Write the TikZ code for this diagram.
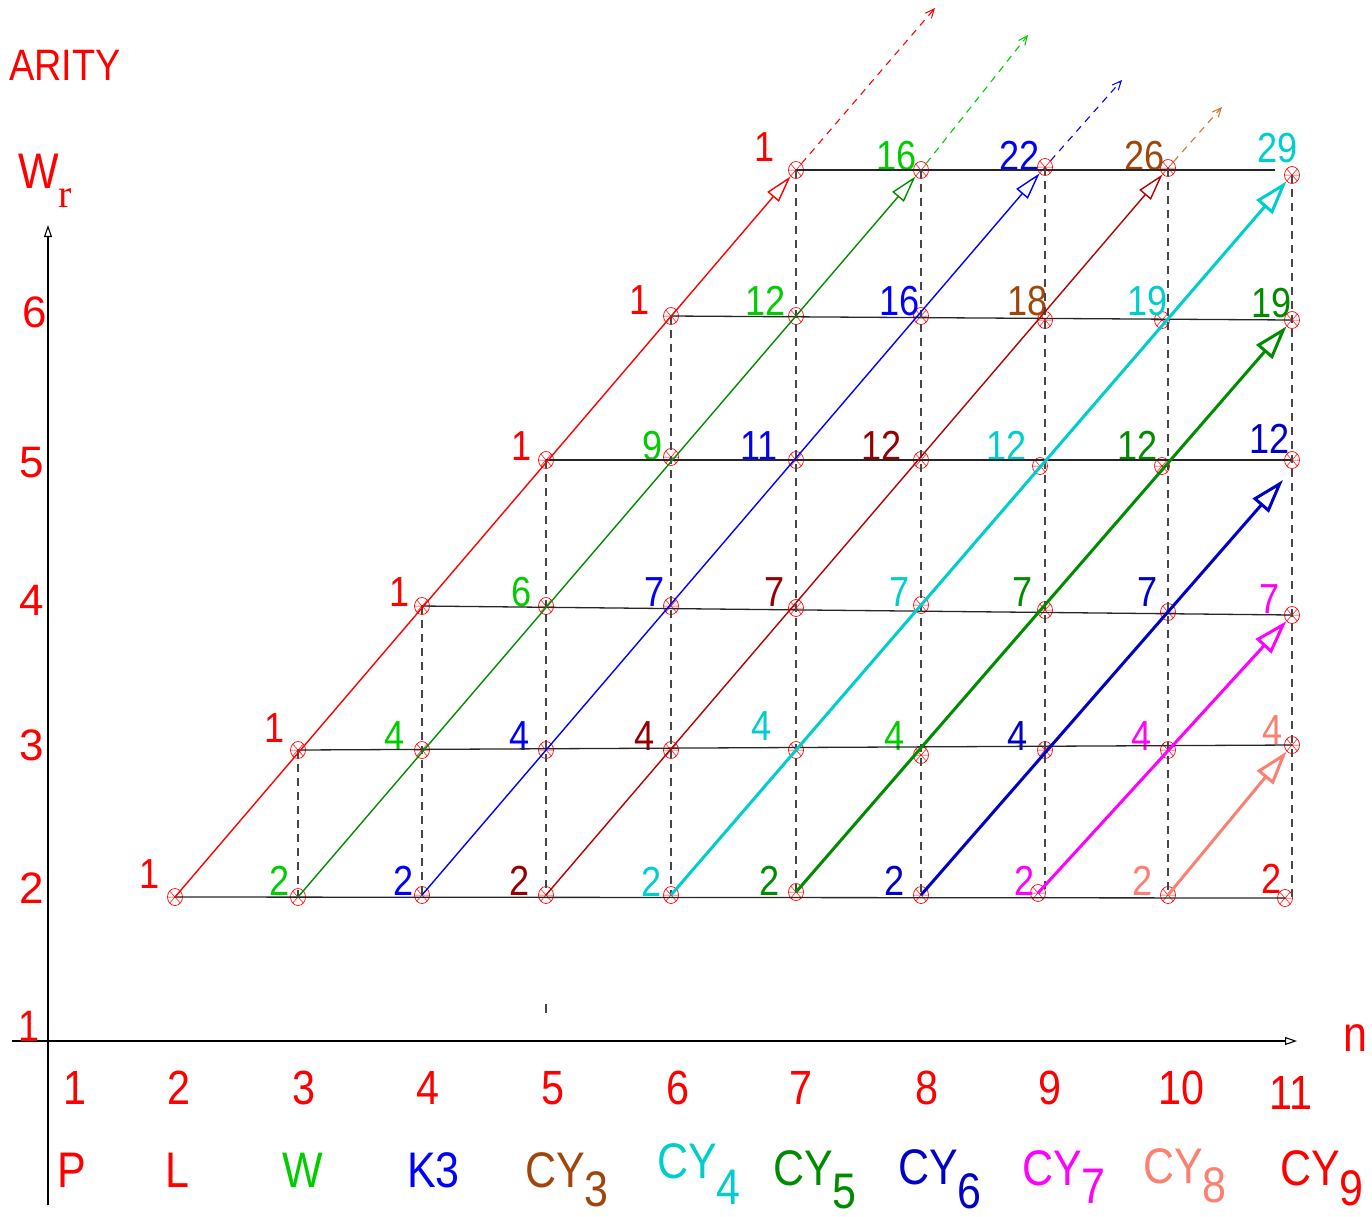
\documentclass[tikz,border=0pt]{standalone}
\usepackage{fontspec}
\setmainfont{Liberation Sans}[FakeStretch=0.86]
\newfontfamily\widefont{Liberation Sans}
\newfontfamily\seriffont{Liberation Serif}
\usetikzlibrary{arrows.meta,shapes.geometric}
\definecolor{cred}{RGB}{255,0,0}
\definecolor{lgreen}{RGB}{0,205,0}
\definecolor{dgreen}{RGB}{0,140,0}
\definecolor{cblue}{RGB}{0,0,255}
\definecolor{dblue}{RGB}{0,0,200}
\definecolor{dred}{RGB}{150,0,0}
\definecolor{lred}{RGB}{180,0,0}
\definecolor{ccyan}{RGB}{0,205,205}
\definecolor{cbrown}{RGB}{160,70,10}
\definecolor{lbrown}{RGB}{200,120,50}
\definecolor{cmag}{RGB}{255,0,255}
\definecolor{salmon}{RGB}{250,128,114}
\definecolor{gline}{RGB}{70,70,70}
\begin{document}
\begin{tikzpicture}[x=1pt,y=-1pt,
  ptmark/.style={ellipse,draw=red,line width=0.7pt,minimum width=15pt,minimum height=17pt,inner sep=0pt,
    path picture={\draw[red,line width=0.5pt]
      (path picture bounding box.north west) -- (path picture bounding box.south east)
      (path picture bounding box.north east) -- (path picture bounding box.south west)
      (path picture bounding box.west) -- (path picture bounding box.east);}},
  lab/.style={anchor=base east,inner sep=0pt,font=\fontsize{42}{42}\selectfont},
  axlab/.style={inner sep=0pt,text=cred,font=\widefont\fontsize{44}{44}\selectfont},
  btm/.style={inner sep=0pt,font=\fontsize{48}{48}\selectfont},
  nm/.style={anchor=base west,inner sep=0pt,font=\fontsize{50}{50}\selectfont},
  hline/.style={black!85,line width=1.3pt},
  vdash/.style={gline,line width=1.1pt,dash pattern=on 8pt off 6pt},
  thin/.style={line width=1.4pt,-{Triangle[open,length=27pt,width=15pt,line width=1.4pt]}},
  thick/.style={line width=3pt,-{Triangle[open,length=34pt,width=21pt,line width=3pt]}},
  cont/.style={line width=1.1pt,dash pattern=on 7pt off 6pt,-{Straight Barb[length=9pt,width=8pt,line width=1pt]}},
  axis/.style={black,line width=1.1pt,-{Triangle[open,length=12pt,width=8pt]}}]
\useasboundingbox (0,0) rectangle (1372,1216);

% axes
\coordinate (yb) at (48,1205);
\coordinate (yt) at (48,225);
\coordinate (xl) at (12,1041);
\coordinate (xr) at (1297,1041);
\draw[axis] (yb) -- (yt);
\draw[axis] (xl) -- (xr);

% texts
\node[anchor=base west,inner sep=0pt,text=cred,font=\fontsize{44}{44}\selectfont] (arity) at (9,80) {ARITY};
\node[anchor=base west,inner sep=0pt,text=cred,font=\fontsize{50}{50}\selectfont] (wr) at (18,188) {W\raisebox{-19pt}{\seriffont\fontsize{40}{40}\selectfont r}};
\node[axlab] (y6) at (35,312) {6};
\node[axlab] (y5) at (32,463) {5};
\node[axlab] (y4) at (32,600) {4};
\node[axlab] (y3) at (32,745) {3};
\node[axlab] (y2) at (32,888) {2};
\node[inner sep=0pt,text=cred,font=\fontsize{44}{44}\selectfont] (y1) at (29,1026) {1};
\node[inner sep=0pt,text=cred,font=\fontsize{50}{50}\selectfont] (nlab) at (1355,1038) {n};

% bottom numbers
\foreach \t/\x/\y in {1/75/1088,2/179/1088,3/304/1088,4/428/1088,5/553/1088,6/678/1088,7/801/1088,8/927/1088,9/1050/1088,10/1181/1088,11/1291/1093}
  \node[btm,text=cred] (b-\t) at (\x,\y) {\t};

% bottom names
\node[nm,text=cred] (nP) at (57,1187) {P};
\node[nm,text=cred] (nL) at (165,1187) {L};
\node[nm,text=lgreen] (nW) at (282,1187) {W};
\node[nm,text=cblue] (nK) at (407,1187) {K3};
\node[nm,text=cbrown] (c3) at (525,1187) {CY\raisebox{-19pt}{3}};
\node[nm,text=ccyan] (c4) at (657,1178) {CY\raisebox{-26pt}{4}};
\node[nm,text=dgreen] (c5) at (773,1185) {CY\raisebox{-23pt}{5}};
\node[nm,text=dblue] (c6) at (898,1184) {CY\raisebox{-24pt}{6}};
\node[nm,text=cmag] (c7) at (1022,1185) {CY\raisebox{-18pt}{7}};
\node[nm,text=salmon] (c8) at (1143,1183) {CY\raisebox{-19pt}{8}};
\node[nm,text=cred] (c9) at (1280,1185) {CY\raisebox{-20pt}{9}};

% points and labels: n/r/x/y/text/colour/label-x/label-y
\foreach \n/\r/\x/\y/\t/\c/\lx/\ly in {
  2/2/175/897/1/cred/160/888,
  3/2/298/897/2/lgreen/290/895,
  4/2/422/895/2/cblue/414/895,
  5/2/546/895/2/dred/530/895,
  6/2/671/895/2/ccyan/662/896,
  7/2/796/892/2/dgreen/780/895,
  8/2/921/895/2/dblue/905/895,
  9/2/1038/893/2/cmag/1035/895,
  10/2/1168/895/2/salmon/1153/895,
  11/2/1285/898/2/cred/1282/893,
  3/3/298/750/1/cred/285/742,
  4/3/422/750/4/lgreen/405/750,
  5/3/546/750/4/cblue/530/750,
  6/3/671/750/4/dred/655/750,
  7/3/796/750/4/ccyan/772/740,
  8/3/921/755/4/lgreen/905/750,
  9/3/1045/750/4/dblue/1028/750,
  10/3/1168/750/4/cmag/1152/750,
  11/3/1292/745/4/salmon/1283/744,
  4/4/422/606/1/cred/410/606,
  5/4/546/606/6/lgreen/532/606,
  6/4/671/606/7/cblue/665/606,
  7/4/796/608/7/dred/785/606,
  8/4/921/605/7/ccyan/910/606,
  9/4/1045/610/7/dgreen/1033/606,
  10/4/1168/612/7/dblue/1158/606,
  11/4/1292/615/7/cmag/1280/613,
  5/5/546/460/1/cred/532/460,
  6/5/671/457/9/lgreen/663/460,
  7/5/796/460/11/cblue/778/460,
  8/5/921/460/12/dred/902/460,
  9/5/1040/466/12/ccyan/1027/460,
  10/5/1162/466/12/dgreen/1158/460,
  11/5/1292/460/12/dblue/1290/453,
  6/6/671/316/1/cred/650/314,
  7/6/796/316/12/lgreen/786/315,
  8/6/921/316/16/cblue/920/315,
  9/6/1045/320/18/cbrown/1048/315,
  10/6/1162/320/19/ccyan/1168/315,
  11/6/1292/320/19/dgreen/1292/317,
  7/7/796/170/1/cred/775/161,
  8/7/921/170/16/lgreen/917/170,
  9/7/1045/167/22/cblue/1040/170,
  10/7/1168/168/26/cbrown/1165/170,
  11/7/1292/175/29/ccyan/1298/162}
{
  \node[ptmark] (p-\n-\r) at (\x,\y) {};
  \node[lab,text=\c] (l-\n-\r) at (\lx,\ly) {\t};
}

% horizontal lines
\coordinate (r7end) at (1275,170);
\draw[hline] (p-2-2.center) -- (p-11-2.center);
\draw[hline] (p-3-3.center) -- (p-11-3.center);
\draw[hline] (p-4-4.center) -- (p-11-4.center);
\draw[hline] (p-5-5.center) -- (p-11-5.center);
\draw[hline] (p-6-6.center) -- (p-11-6.center);
\draw[hline] (p-7-7.center) -- (r7end);

% vertical dashed lines
\coordinate (v9) at (1045,893);
\coordinate (v11) at (1292,897);
\draw[vdash] (p-3-3.center) -- (p-3-2.center);
\draw[vdash] (p-4-4.center) -- (p-4-2.center);
\draw[vdash] (p-5-5.center) -- (p-5-2.center);
\draw[vdash] (p-6-6.center) -- (p-6-2.center);
\draw[vdash] (p-7-7.center) -- (p-7-2.center);
\draw[vdash] (p-8-7.center) -- (p-8-2.center);
\draw[vdash] (p-9-7.center) -- (v9);
\draw[vdash] (p-10-7.center) -- (p-10-2.center);
\draw[vdash] (p-11-7.center) -- (v11);
\coordinate (tick1) at (546,1004);
\coordinate (tick2) at (546,1013);
\draw[gline,line width=1.1pt] (tick1) -- (tick2);

% diagonals
\draw[thin,cred] (p-2-2.center) -- (p-7-7);
\draw[thin,dgreen] (p-3-2.center) -- (p-8-7);
\draw[thin,cblue] (p-4-2.center) -- (p-9-7);
\draw[thin,lred] (p-5-2.center) -- (p-10-7);
\draw[thick,ccyan] (p-6-2.center) -- (p-11-7);
\draw[thick,dgreen] (p-7-2.center) -- (p-11-6);
\coordinate (bend) at (1283,480);
\draw[thick,dblue] (p-8-2.center) -- (bend);
\draw[thick,cmag] (p-9-2.center) -- (p-11-4);
\draw[thick,salmon] (p-10-2.center) -- (p-11-3);

% dashed continuations
\coordinate (e1) at (935,8);
\coordinate (e2) at (1028,35);
\coordinate (e3) at (1122,80);
\coordinate (e4) at (1222,107);
\draw[cont,cred] (p-7-7) -- (e1);
\draw[cont,lgreen] (p-8-7) -- (e2);
\draw[cont,cblue] (p-9-7) -- (e3);
\draw[cont,lbrown] (p-10-7) -- (e4);
\end{tikzpicture}
\end{document}
